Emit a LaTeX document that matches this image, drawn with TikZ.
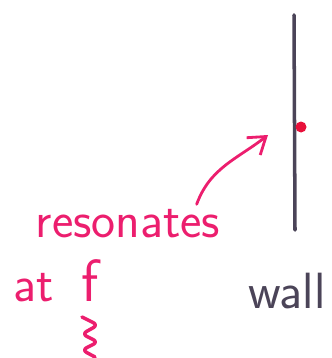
\documentclass[tikz,border=0pt]{standalone}
\usetikzlibrary{arrows.meta, positioning, calc}
\definecolor{cpink}{HTML}{EC1E6E}
\definecolor{cwall}{HTML}{4B4458}
\definecolor{cdot}{HTML}{E8103A}
\tikzset{
  every picture/.style={font=\sffamily, line width=1.6pt},
  hand/.style={font=\sffamily\fontsize{29}{31}\selectfont, inner sep=0pt},
  pinkarrow/.style={-{Straight Barb[length=3.2mm, width=4.4mm]}, draw=cpink, line cap=round},
}
\begin{document}
\begin{tikzpicture}[x=0.02cm, y=-0.02cm]
  \useasboundingbox (0,0) rectangle (331,358);
  % the wall and the point on it
  \coordinate (walltop) at (294,15);
  \coordinate (wallbot) at (295,230);
  \draw[cwall, line width=2pt, line cap=round] (walltop) -- (wallbot);
  \fill[cdot] (301,127) circle (5.5);
  \node[hand, cwall] (wall) at (287,291) {wall};
  % what resonates
  \node[hand, cpink] (res) at (128,224) {resonates};
  \node[hand, cpink, anchor=west] (atf) at (12,281) {at\hspace{0.55cm}{\fontsize{34}{36}\selectfont f}};
  \coordinate (tip) at (268,135);
  \draw[pinkarrow] ($(res.north east)+(-25,-4)$) to[out=70, in=218] (tip);
  \draw[cpink, line width=2pt, line cap=round, line join=round, rounded corners=3pt]
    (82,317) -- (98,325) -- (82,334) -- (98,342) -- (82,350) -- (95,357);
\end{tikzpicture}
\end{document}
